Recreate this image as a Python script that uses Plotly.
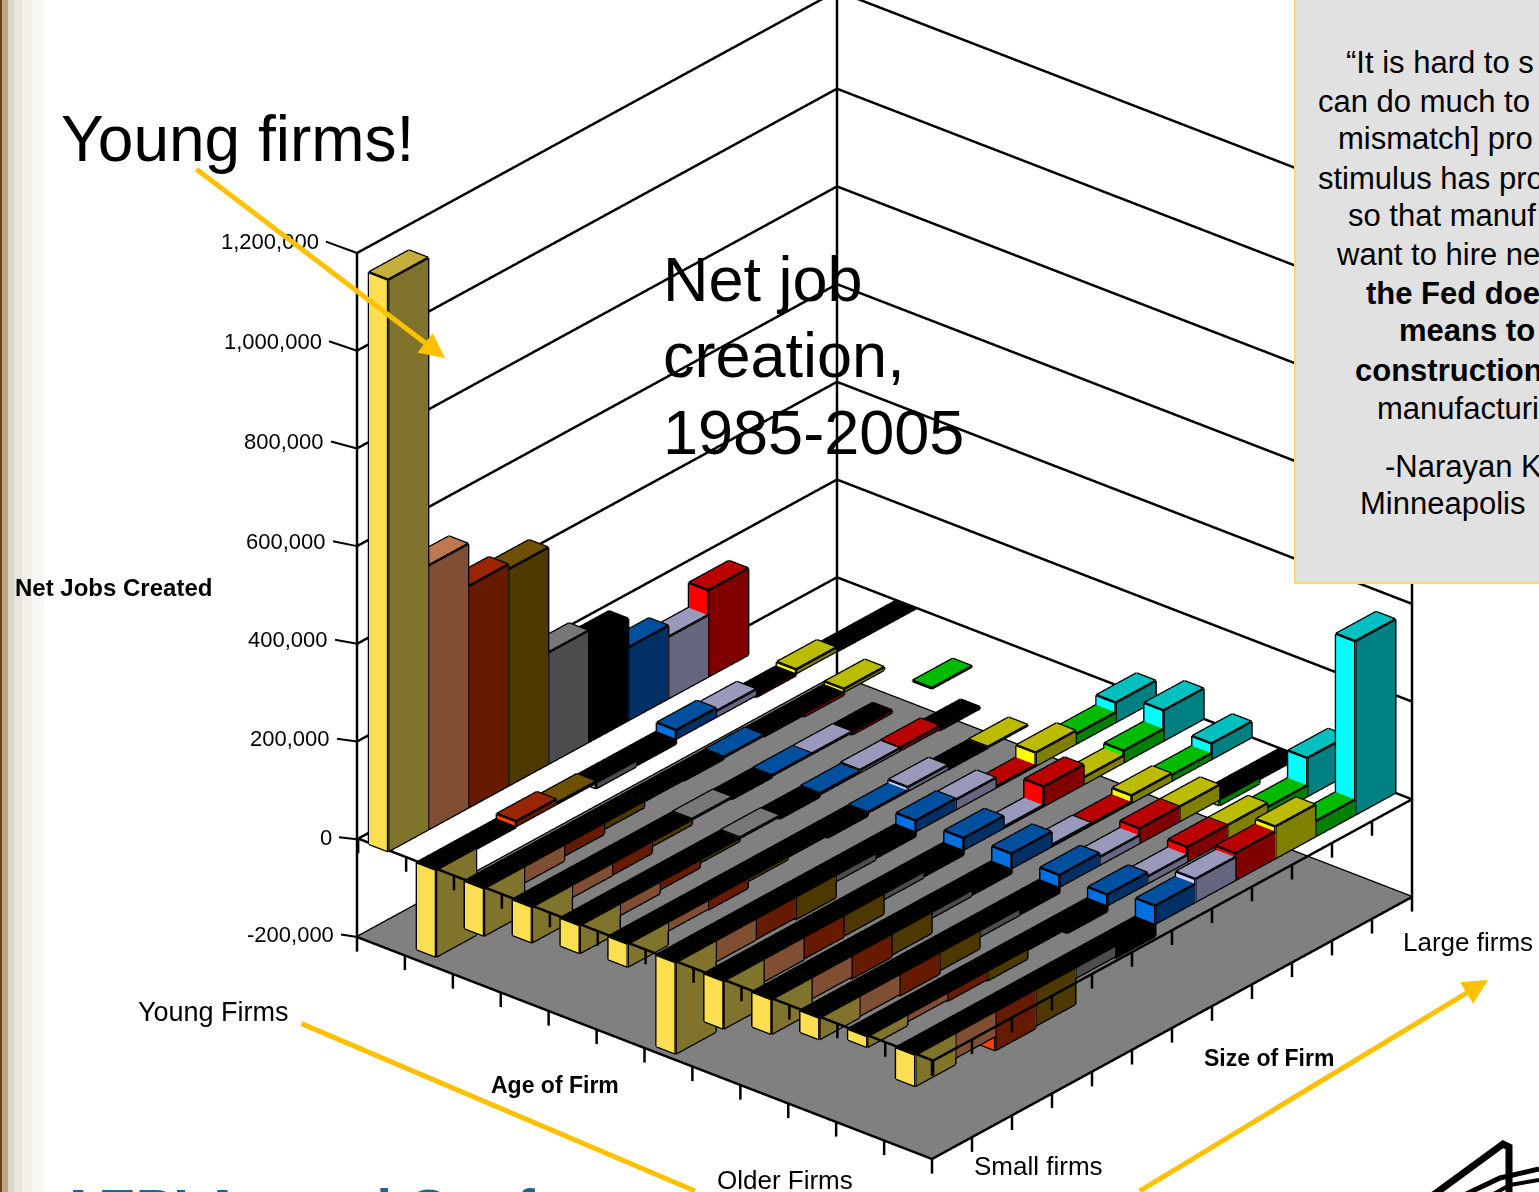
import numpy as np
import plotly.graph_objects as go

W, H = 1539, 1192
N = None
# net jobs created (thousands) per age row (young -> older) for each firm size series
size_1  = [1170,-178,-97,-73,-57,-47,-187,-98,-71,-44,-22,-64]
size_2  = [540,-2,-33,-25,-24,-18,-43,-46,-43,-41,-14,-51]
size_3  = [453,10,-23,-24,-16,-20,-42,-44,-47,-44,-17,-80]
size_4  = [443,2,-13,-10,-6,-6,-46,-42,-43,-37,-20,-75]
size_5  = [228,-12,-1,1,1,-1,-13,-12,-12,-13,-2,-22]
size_6  = [208,-10,-3,-3,-5,-6,-10,-10,-10,-12,-12,-25]
size_7  = [149,18,1,1,2,1,22,24,30,24,22,37]
size_8  = [126,12,-2,1,5,8,20,2,3,16,14,47]
size_9  = [177,-4,-6,-5,6,-1,2,40,2,30,30,55]
size_10 = [N,8,6,N,-3,1,27,14,15,30,30,65]
size_11 = [N,-1,N,1,N,N,20,24,12,-12,22,31]
size_12 = [N,-1,N,N,N,N,40,62,32,-3,78,355]
series = [size_1,size_2,size_3,size_4,size_5,size_6,size_7,size_8,size_9,size_10,size_11,size_12]
# (bright face, top face, dark face)
palette = [
 ("#FBDF50","#C4AF3C","#80732C"),("#F29A6C","#C07850","#804E33"),("#FF4000","#992600","#661A00"),
 ("#FFAA00","#6F5000","#4D3800"),("#A0A0A0","#777777","#4D4D4D"),("#000000","#000000","#000000"),
 ("#0070E0","#00509F","#003066"),("#CCCCFF","#9999BB","#666680"),("#FF0000","#BB0000","#800000"),
 ("#FFFF00","#BBBB00","#808000"),("#00FF00","#00BB00","#008000"),("#00FFFF","#00C0C0","#008080")]
z_ticks = [-200000,0,200000,400000,600000,800000,1000000,1200000]
z_text = ["-200,000","0","200,000","400,000","600,000","800,000","1,000,000","1,200,000"]
z_label_px = [(335,933),(333,836),(331,737),(329,637),(327,538),(325,437),(323,335),(320,234)]
ZMIN, ZMAX = -235000, 1210000

# view fit: screen vectors of the whole x, y axes and of 1.4M of z
ux, uy = 575.0, -222.0
vx, vy = 480.0, 262.0
wy = 684.0
ORIGIN = (357.0, 937.0)
d2 = (ux*-uy)/(vx*vy)
s2 = ux**2 + d2*vx**2
d3 = (s2-uy**2-d2*vy**2)/wy**2
s = np.sqrt(s2)
ay, az = 1/np.sqrt(d2), 1/np.sqrt(d3)
r = np.array([ux, vx*np.sqrt(d2), 0])/s
t = np.array([uy, vy*np.sqrt(d2), wy*np.sqrt(d3)])/s
n = np.cross(r, t)
zspan = (ZMAX-ZMIN)/1.4e6
zc = ((ZMAX+ZMIN)/2+200000)/1.4e6
bx = ORIGIN[0]+ux/2+vx/2
by = ORIGIN[1]-(uy/2+vy/2+wy*zc)
SCR = H/2
k = s/SCR
cen = (r*(W/2-bx)+t*(by-H/2))/SCR
eye = cen+3.0*n

fig = go.Figure()
# floor
fig.add_trace(go.Mesh3d(x=[0,12,12,0],y=[0,0,12,12],z=[-200000]*4,i=[0,0],j=[1,2],k=[2,3],color="#808080",
    flatshading=True,lighting=dict(ambient=1,diffuse=0,specular=0,fresnel=0),hoverinfo="skip"))
AGE0, AGE1 = 0.25, 0.65
ex,ey,ez=[],[],[]
def seg(a,b):
    ex.extend([a[0],b[0],None]);ey.extend([a[1],b[1],None]);ez.extend([a[2],b[2],None])
for js,vals in enumerate(series):
    X,Y,Z,I,J,K,FC=[],[],[],[],[],[],[]
    b,tc,dk=palette[js]
    for ia,v in enumerate(vals):
        if v is None: continue
        v=v*1000.0
        x0,x1=ia+AGE0,ia+AGE1; y0,y1=float(js),js+1.0
        zt,zb=max(v,0),min(v,0)
        base=len(X)
        pts=[(x0,y0,zb),(x1,y0,zb),(x1,y1,zb),(x0,y0,zt),(x1,y0,zt),(x1,y1,zt),(x0,y1,zt)]
        for p in pts:
            X.append(p[0]);Y.append(p[1]);Z.append(p[2])
        faces=[((0,1,4),b),((0,4,3),b),((1,2,5),dk),((1,5,4),dk)]
        top=tc if v>0 else "#000000"
        faces+=[((3,4,5),top),((3,5,6),top)]
        for f,c in faces:
            I.append(base+f[0]);J.append(base+f[1]);K.append(base+f[2]);FC.append(c)
        for a,c in [(3,4),(4,5),(5,6),(6,3),(0,3),(1,4),(2,5),(0,1),(1,2)]:
            seg(pts[a],pts[c])
    fig.add_trace(go.Mesh3d(x=X,y=Y,z=Z,i=I,j=J,k=K,facecolor=FC,flatshading=True,
        lighting=dict(ambient=1,diffuse=0,specular=0,fresnel=0),hoverinfo="skip",name="Size %d"%(js+1)))
fig.add_trace(go.Scatter3d(x=ex,y=ey,z=ez,mode="lines",line=dict(color="black",width=5),hoverinfo="skip",showlegend=False))

# frame
fx,fy,fz=[],[],[]
def fseg(a,b):
    fx.extend([a[0],b[0],None]);fy.extend([a[1],b[1],None]);fz.extend([a[2],b[2],None])
Zf=-200000
fseg((0,0,Zf),(12,0,Zf));fseg((12,0,Zf),(12,12,Zf));fseg((12,12,Zf),(0,12,Zf));fseg((0,12,Zf),(0,0,Zf))
fseg((0,0,Zf),(0,0,1200000));fseg((0,12,Zf),(0,12,1200000));fseg((12,12,Zf),(12,12,1200000))
fseg((0,0.03,0),(12,0.03,0));fseg((12,0.03,0),(12,12,0))
for zv in z_ticks:
    fseg((0,0,zv),(0,12,zv));fseg((0,12,zv),(12,12,zv))
for kk in range(13):
    fseg((kk,0,Zf),(kk,0,Zf-30000));fseg((12,kk,Zf),(12,kk,Zf-30000))
    fseg((kk,0.03,0),(kk,0.03,-30000));fseg((12,kk,0),(12,kk,-30000))
fig.add_trace(go.Scatter3d(x=fx,y=fy,z=fz,mode="lines",line=dict(color="black",width=5),hoverinfo="skip",showlegend=False))

FONT="Liberation Sans"
ann=[]
def text(s_,x,y,size,bold=False,color="black",anchor="left"):
    ann.append(dict(text=("<b>%s</b>"%s_) if bold else s_,x=x/W,y=1-y/H,xref="paper",yref="paper",xanchor=anchor,yanchor="middle",
        showarrow=False,borderpad=0,font=dict(family=FONT,size=size,color=color)))
def arrow(x0,y0,x1,y1,head=2):
    ann.append(dict(text="",x=x1/W,y=1-y1/H,xref="paper",yref="paper",ax=x0-x1,ay=y0-y1,showarrow=True,
        arrowhead=head,arrowsize=1,arrowwidth=5,arrowcolor="#FFC000"))
ann.append(dict(text=" ",x=1294/W,y=1+6/H,xref="paper",yref="paper",xanchor="left",yanchor="top",width=300,height=584,
    showarrow=False,bgcolor="#E1E1E1",bordercolor="#FFD966",borderwidth=2))
shapes=[]
for x0,x1,c in [(0,2,"#6B3F1A"),(2,8,"#B8A888"),(8,14,"#DDD6C6"),(14,22,"#E9E5DA"),(22,32,"#F2EFE8"),(32,44,"#F9F7F3")]:
    shapes.append(dict(type="rect",xref="paper",yref="paper",x0=x0/W,x1=x1/W,y0=0,y1=1,fillcolor=c,line_width=0,layer="below"))
for zv,lab,(lx,ly) in zip(z_ticks,z_text,z_label_px):
    gy=ORIGIN[1]-wy*(zv+200000)/1.4e6
    yy=0.4*gy+0.6*ly
    text(lab,lx,yy,22,anchor="right")
    shapes.append(dict(type="line",xref="paper",yref="paper",x0=(lx+6)/W,y0=1-yy/H,x1=ORIGIN[0]/W,y1=1-gy/H,line=dict(color="black",width=2)))
for s_,x,y,b in [("\u201cIt is hard to s",1345,62,0),("can do much to",1317,101,0),("mismatch] pro",1337,139,0),
    ("stimulus has pro",1317,178,0),("so that manuf",1347,216,0),("want to hire ne",1335,254,0),
    ("the Fed doe",1365,293,1),("means to",1398,331,1),("construction",1354,370,1),("manufacturi",1376,408,0),
    ("-Narayan K",1384,466,0),("Minneapolis",1359,504,0)]:
    text(s_,x,y,31,bool(b))
text("Young firms!",60,139,64)
text("Net job",662,279,63);text("creation,",662,355,63);text("1985-2005",662,432,63)
text("Net Jobs Created",14,587,24,True)
text("Age of Firm",490,1085,23,True);text("Size of Firm",1203,1058,23,True)
text("Young Firms",137,1012,27);text("Older Firms",716,1180,26);text("Small firms",973,1166,26);text("Large firms",1402,942,26)
ann.append(dict(text="<b>AEPI Annual Conf</b>",x=56/W,y=1-1175/H,xref="paper",yref="paper",xanchor="left",yanchor="top",showarrow=False,
    font=dict(family=FONT,size=56,color="#17668F")))
arrow(195,168,445,358);arrow(300,1023,695,1196,0);arrow(1138,1196,1488,980)

def path(pts,width):
    d="M"+" L".join("%f,%f"%(p[0]/W,1-p[1]/H) for p in pts)
    shapes.append(dict(type="path",xref="paper",yref="paper",path=d,line=dict(color="black",width=width),layer="below"))
path([(1432,1196),(1503,1144),(1509,1147),(1509,1196)],7)
path([(1462,1196),(1500,1178),(1539,1169)],5)
path([(1490,1196),(1510,1185),(1539,1180)],4)

fig.update_layout(width=W,height=H,margin=dict(l=0,r=0,t=0,b=0),paper_bgcolor="white",showlegend=False,
    annotations=ann,shapes=shapes,
    scene=dict(domain=dict(x=[0,1],y=[0,1]),aspectmode="manual",aspectratio=dict(x=float(k),y=float(k*ay),z=float(k*az*zspan)),
        xaxis=dict(range=[0,12],visible=False),yaxis=dict(range=[0,12],visible=False),
        zaxis=dict(range=[ZMIN,ZMAX],visible=False),
        camera=dict(projection=dict(type="orthographic"),up=dict(x=0,y=0,z=1),
            center=dict(x=float(cen[0]),y=float(cen[1]),z=float(cen[2])),
            eye=dict(x=float(eye[0]),y=float(eye[1]),z=float(eye[2])))))
fig.write_html("out.html",config=dict(displayModeBar=False),
    post_script="document.body.style.margin='0';document.body.style.overflow='hidden';")
